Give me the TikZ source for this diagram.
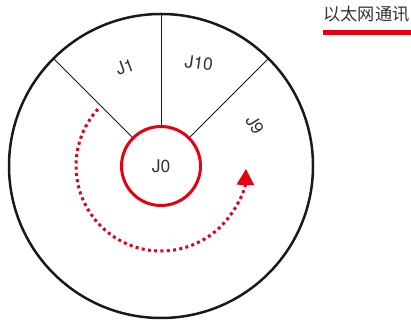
\documentclass[tikz,border=0pt]{standalone}
\usepackage{fontspec}
\setmainfont{TeX Gyre Heros}
\newfontfamily\cjk{Noto Sans CJK SC}
\usetikzlibrary{arrows.meta,positioning,calc}
\definecolor{ethred}{HTML}{E60012}
\definecolor{labelgray}{HTML}{333333}
\tikzset{
  wheel/.style={draw=black!90, circle, line width=2.5pt, minimum size=304pt, inner sep=0pt},
  hub/.style={draw=ethred, circle, line width=3pt, minimum size=79pt, inner sep=0pt, font=\fontsize{17.5}{17.5}\selectfont, text=labelgray},
  spoke/.style={line width=0.9pt, black!90},
  joint/.style={font=\fontsize{17.5}{17.5}\selectfont, text=labelgray, inner sep=0pt},
  flow/.style={ethred, line width=3pt, dash pattern=on 3pt off 3.3pt, -{Triangle[length=16pt,width=17pt]}},
  bar/.style={ethred, line width=5pt}
}
\begin{document}
\begin{tikzpicture}[x=1pt,y=1pt]
  \useasboundingbox (0,0) rectangle (411,320);
  \node[wheel] (ring) at (161,154) {};
  \node[hub] (j0) at (161,154) {J0};

  \draw[spoke] (j0.90) -- (ring.90);
  \draw[spoke] (j0.45) -- (ring.45);
  \draw[spoke] (j0.135) -- (ring.135);

  \node[joint, rotate=20] (j1) at (125,253) {J1};
  \node[joint, rotate=-8] (j10) at (199,257) {J10};
  \node[joint, rotate=-58] (j9) at (255,195) {J9};

  \draw[flow] ($(j0.center)+(138:85)$) arc[start angle=138, end angle=358, radius=85];

  % legend
  \node[font=\cjk\fontsize{17.2}{17.2}\selectfont, text=labelgray] (legend) at (366.5,306) {以太网通讯};
  \coordinate (barleft) at (323,287.5);
  \coordinate (barright) at (411,287.5);
  \draw[bar] (barleft) -- (barright);
\end{tikzpicture}
\end{document}
